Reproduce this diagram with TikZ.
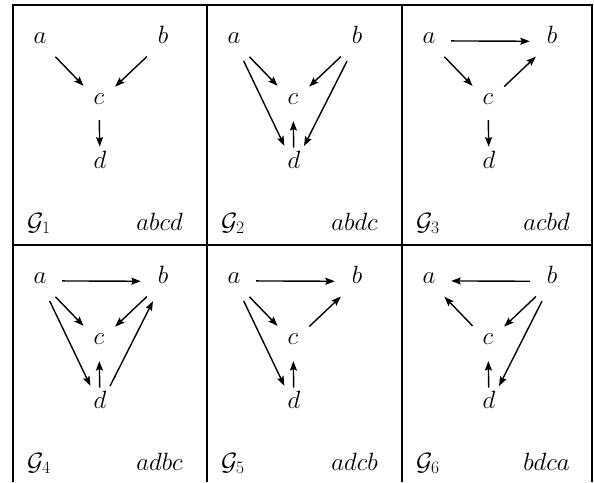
\RequirePackage{fix-cm}
\documentclass[tikz,border=0pt]{standalone}
\usetikzlibrary{arrows.meta}
\newcommand\gcell[5]{%
  \node[v] (a#3) at ({#1+27},{#2+38}) {$a$};
  \node[v] (b#3) at ({#1+150},{#2+38.5}) {$b$};
  \node[v] (c#3) at ({#1+86},{#2+99}) {$c$};
  \node[v] (d#3) at ({#1+87},{#2+163}) {$d$};
  \node[lab, anchor=base west] (g#3) at ({#1+14},{#2+225}) {$\mathcal{G}_{#3}$};
  \node[lab, anchor=base east] (o#3) at ({#1+#5},{#2+225}) {$#4$};
}
\begin{document}
\begin{tikzpicture}[x=1pt,y=-1pt,
  v/.style={circle, minimum size=44pt, inner sep=0pt, text height=1ex, text depth=0pt, anchor=base, font=\fontsize{25}{30}\selectfont},
  lab/.style={inner sep=0pt, font=\fontsize{25}{30}\selectfont},
  arr/.style={-{Stealth[length=9.5pt,width=7pt,inset=1.5pt]}, line width=1.4pt},
  varr/.style={arr, shorten <=-4pt, shorten >=-3pt},
  frame/.style={line width=1.3pt}]
\useasboundingbox (0,0) rectangle (594,482);
\fill[white] (0,0) rectangle (594,482);
% frame
\draw[frame] (13,482) -- (13,5) -- (592,5) -- (592,482);
\draw[frame] (207,5) -- (207,482);
\draw[frame] (402,5) -- (402,482);
\draw[frame] (13,245) -- (592,245);
% cells
\gcell{13}{5}{1}{abcd}{170}
\gcell{207}{5}{2}{abdc}{171}
\gcell{402}{5}{3}{acbd}{168}
\gcell{13}{245}{4}{adbc}{170}
\gcell{207}{245}{5}{adcb}{171}
\gcell{402}{245}{6}{bdca}{168}
% G1
\draw[arr] (a1) -- (c1);
\draw[arr] (b1) -- (c1);
\draw[varr] (c1) -- (d1);
% G2
\draw[arr] (a2) -- (c2);
\draw[arr] (b2) -- (c2);
\draw[arr] (a2) -- (d2);
\draw[arr] (b2) -- (d2);
\draw[varr] (d2) -- (c2);
% G3
\draw[arr] (a3) -- (b3);
\draw[arr] (a3) -- (c3);
\draw[arr] (c3) -- (b3);
\draw[varr] (c3) -- (d3);
% G4
\draw[arr] (a4) -- (b4);
\draw[arr] (a4) -- (c4);
\draw[arr] (b4) -- (c4);
\draw[arr] (a4) -- (d4);
\draw[arr] (d4) -- (b4);
\draw[varr] (d4) -- (c4);
% G5
\draw[arr] (a5) -- (b5);
\draw[arr] (a5) -- (c5);
\draw[arr] (c5) -- (b5);
\draw[arr] (a5) -- (d5);
\draw[varr] (d5) -- (c5);
% G6
\draw[arr] (b6) -- (a6);
\draw[arr] (c6) -- (a6);
\draw[arr] (b6) -- (c6);
\draw[arr] (b6) -- (d6);
\draw[varr] (d6) -- (c6);
\end{tikzpicture}
\end{document}
